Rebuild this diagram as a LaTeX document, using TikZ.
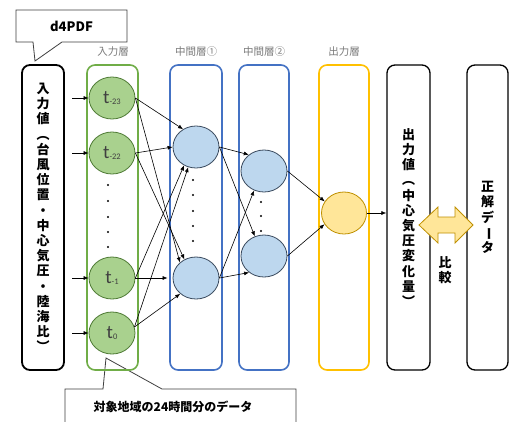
\documentclass[tikz,border=0pt]{standalone}
\usepackage{fontspec}
\usepackage{graphicx}
\setmainfont{Noto Sans CJK JP}
\newfontfamily\latinsans{Carlito}
\usetikzlibrary{shapes.geometric,arrows.meta}

\definecolor{ingreen}{HTML}{70AD47}
\definecolor{infill}{HTML}{A9D18E}
\definecolor{inborder}{HTML}{4E7A34}
\definecolor{hidblue}{HTML}{4472C4}
\definecolor{hidfill}{HTML}{BDD7EE}
\definecolor{hidborder}{HTML}{3A4A5E}
\definecolor{outorange}{HTML}{FFC000}
\definecolor{outfill}{HTML}{FFE699}
\definecolor{outborder}{HTML}{BF9000}
\definecolor{labelgray}{HTML}{7A7A7A}
\definecolor{notegray}{HTML}{404040}

\newcommand{\vbar}{\rotatebox[origin=c]{-90}{ー}}
\newcommand{\tsub}[1]{t{\fontsize{8.5}{8.5}\selectfont\raisebox{-1.5pt}{#1}}}

\begin{document}
\begin{tikzpicture}[x=1pt,y=-1pt,
  layer/.style={draw, rounded corners=8pt, line width=1.6pt,
    minimum height=305pt, inner sep=0pt},
  valuebox/.style={draw=black, rounded corners=8pt, line width=1.3pt,
    minimum height=305pt, inner sep=0pt},
  neuron/.style={ellipse, draw, line width=0.8pt, minimum width=46pt,
    minimum height=42pt, inner sep=0pt},
  inneuron/.style={neuron, fill=infill, draw=inborder, text=notegray,
    font=\latinsans\fontsize{19}{19}\selectfont},
  hidneuron/.style={neuron, fill=hidfill, draw=hidborder},
  link/.style={-{Latex[length=5pt,width=4pt]}, line width=0.6pt, black},
  vtext/.style={font=\bfseries\fontsize{13}{15.2}\selectfont, align=center},
  laylabel/.style={text=labelgray, font=\fontsize{10.5}{12}\selectfont, inner sep=0pt},
  dotmark/.style={circle, fill=black, inner sep=0pt, minimum size=2.2pt},
  note/.style={draw=notegray, fill=white, line width=0.8pt}]

\clip (0,0) rectangle (510,421);
\fill[white] (0,0) rectangle (510,421);

% callout under the input layer
\draw[note] (65,389) -- (103,389) -- (106,358) -- (162,389) -- (296,389)
  -- (296,430) -- (65,430) -- cycle;
\node[font=\bfseries\fontsize{12}{14}\selectfont, inner sep=0pt] (span) at (173,407)
  {対象地域の24時間分のデータ};

% input values
\node[layer, draw=black, line width=1.8pt, minimum width=42pt, vtext] (inbox) at (43,217.5)
  {入\\力\\値\\︵\\台\\風\\位\\置\\・\\中\\心\\気\\圧\\・\\陸\\海\\比\\︶};

% layer frames
\node[layer, draw=ingreen, minimum width=51pt] (inlayer) at (112.5,217.5) {};
\node[layer, draw=hidblue, minimum width=52pt] (h1layer) at (196,217.5) {};
\node[layer, draw=hidblue, minimum width=50pt] (h2layer) at (264,217.5) {};
\node[layer, draw=outorange, minimum width=50pt] (outlayer) at (344,217.5) {};

\node[laylabel] (inlab) at (113,52) {入力層};
\node[laylabel] (h1lab) at (196,52) {中間層①};
\node[laylabel] (h2lab) at (264,52) {中間層②};
\node[laylabel] (outlab) at (344,52) {出力層};

% input neurons
\node[inneuron] (in23) at (112,98) {\tsub{-23}};
\node[inneuron] (in22) at (112,153) {\tsub{-22}};
\node[inneuron] (in1) at (112,278) {\tsub{-1}};
\node[inneuron] (in0) at (112,333) {\tsub{0}};
\foreach \y [count=\i] in {185,201,217,232,247}
  \node[dotmark] (indot\i) at (108,\y) {};

% hidden neurons
\node[hidneuron] (h1a) at (196,147) {};
\node[hidneuron] (h1b) at (196,278) {};
\foreach \y [count=\i] in {180,195,211,226,241}
  \node[dotmark] (hadot\i) at (193,\y) {};
\node[hidneuron] (h2a) at (264,171) {};
\node[hidneuron] (h2b) at (264,256) {};
\foreach \y [count=\i] in {202,216,231}
  \node[dotmark] (hbdot\i) at (261,\y) {};

% output neuron
\node[neuron, fill=outfill, draw=outborder, minimum width=45pt] (out) at (344,213) {};

% output value and reference data
\node[valuebox, minimum width=43pt, vtext] (outval) at (408.5,217.5)
  {出\\力\\値\\︵\\中\\心\\気\\圧\\変\\化\\量\\︶};
\node[valuebox, minimum width=41pt, vtext] (truth) at (487.5,217.5)
  {正\\解\\デ\\\vbar\\タ};

% comparison arrow
\filldraw[fill=outfill, draw=outborder, line width=0.8pt]
  (419,225) -- (438,207) -- (438,217) -- (455,217) -- (455,207) -- (473,225)
  -- (455,243) -- (455,233) -- (438,233) -- (438,243) -- cycle;
\node[vtext] (cmp) at (445,270) {比\\較};

% feeds into the input neurons
\foreach \n in {in23,in22,in1,in0} {
  \coordinate (src-\n) at (72,0 |- \n.west);
  \draw[link] (src-\n) -- (\n.west);
}

% input -> hidden 1
\draw[link] (in23.east) -- (h1a.126);
\draw[link] (in23.east) -- (h1b.136);
\draw[link] (in22.east) -- (h1a.west);
\draw[link] (in22.east) -- (h1b.122);
\draw[link] (in1.east) -- (h1a.237);
\draw[link, shorten >=5pt] (in1.east) -- (h1b.west);
\draw[link] (in0.15) -- (h1a.249);
\draw[link] (in0.15) -- (h1b.225);

% hidden 1 -> hidden 2
\draw[link] (h1a.east) -- (h2a.133);
\draw[link] (h1a.east) -- (h2b.115);
\draw[link] (h1b.east) -- (h2a.243);
\draw[link] (h1b.east) -- (h2b.228);

% hidden 2 -> output
\draw[link] (h2a.east) -- (out.149);
\draw[link] (h2b.east) -- (out.210);
\draw[link] (out.east) -- (out.east -| outval.west);

% source callout
\draw[note] (16,10) -- (127,10) -- (127,42) -- (62,42) -- (35,61) -- (33,42)
  -- (16,42) -- cycle;
\node[font=\bfseries\fontsize{13}{15}\selectfont, inner sep=0pt] (src) at (71.5,26) {d4PDF};
\end{tikzpicture}
\end{document}
